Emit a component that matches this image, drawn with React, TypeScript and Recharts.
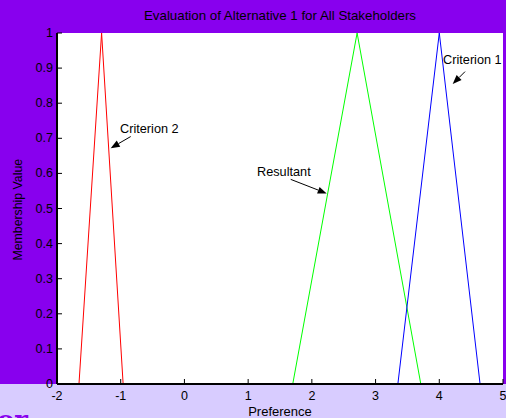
import * as React from "react"
import {
  LineChart,
  Line,
  XAxis,
  YAxis,
  CartesianGrid,
  ReferenceLine,
  ReferenceDot,
} from "recharts"

// membership triangles (x = preference, y = membership value)
const criterion1X = [3.35, 4.0, 4.64]
const criterion1Y = [0, 1, 0]
const criterion2X = [-1.655, -1.3, -0.962]
const criterion2Y = [0, 1, 0]
const resultantX = [1.7, 2.71, 3.71]
const resultantY = [0, 1, 0]

const xTicks = [-2, -1, 0, 1, 2, 3, 4, 5]
const yTicks = [0, 0.1, 0.2, 0.3, 0.4, 0.5, 0.6, 0.7, 0.8, 0.9, 1]

// annotation text anchor + arrow (from -> to), data units
const noteLabels = ["Criterion 1", "Criterion 2", "Resultant"]
const noteTextX = [4.06, -1.01, 1.14]
const noteTextY = [0.912, 0.716, 0.593]
const arrowFromX = [4.404, -0.843, 1.668]
const arrowFromY = [0.89, 0.705, 0.583]
const arrowToX = [4.211, -1.157, 2.233]
const arrowToY = [0.855, 0.672, 0.543]

const PURPLE = "#8800ee"
const LAVENDER = "#d8ccff"
const FONT = "Arial, 'Liberation Sans', Helvetica, sans-serif"

const toPoints = (xs: number[], ys: number[]) => xs.map((x, i) => ({ x, y: ys[i] }))

const BottomTick = (props: any) => {
  const { x, y, payload } = props
  return (
    <g>
      <line x1={x} y1={y} x2={x} y2={y - 5} stroke="#000" strokeWidth={1} />
      <text x={x} y={y + 16} textAnchor="middle" fontSize={12.5} fontFamily={FONT} fill="#000">
        {payload.value}
      </text>
    </g>
  )
}

const TopTick = (props: any) => {
  const { x, y } = props
  return <line x1={x} y1={y} x2={x} y2={y + 5} stroke="#000" strokeWidth={1} />
}

const LeftTick = (props: any) => {
  const { x, y, payload } = props
  const label = String(Math.round(payload.value * 10) / 10)
  return (
    <g>
      <line x1={x} y1={y} x2={x + 5} y2={y} stroke="#000" strokeWidth={1} />
      <text x={x - 4} y={y + 4} textAnchor="end" fontSize={12.5} fontFamily={FONT} fill="#000">
        {label}
      </text>
    </g>
  )
}

const RightTick = (props: any) => {
  const { x, y } = props
  return <line x1={x} y1={y} x2={x - 5} y2={y} stroke="#000" strokeWidth={1} />
}

const Arrow = (props: any) => {
  const { x1, y1, x2, y2 } = props
  if (x1 == null || x2 == null) return null
  const a = Math.atan2(y2 - y1, x2 - x1)
  const len = 9
  const w = 3.5
  const bx = x2 - len * Math.cos(a)
  const by = y2 - len * Math.sin(a)
  const px = -Math.sin(a) * w
  const py = Math.cos(a) * w
  return (
    <g>
      <line x1={x1} y1={y1} x2={bx} y2={by} stroke="#000" strokeWidth={1} />
      <polygon points={`${x2},${y2} ${bx + px},${by + py} ${bx - px},${by - py}`} fill="#000" />
    </g>
  )
}

export default function App() {
  return (
    <div
      style={{
        position: "absolute",
        left: 0,
        top: 0,
        width: 506,
        height: 418,
        overflow: "hidden",
        background: `linear-gradient(to bottom, ${PURPLE} 0px, ${PURPLE} 384px, ${LAVENDER} 384px, ${LAVENDER} 418px)`,
        fontFamily: FONT,
      }}
    >
      <div
        style={{
          position: "absolute",
          left: 57,
          width: 446,
          top: 8,
          textAlign: "center",
          fontSize: 13.3,
          color: "#000",
        }}
      >
        Evaluation of Alternative 1 for All Stakeholders
      </div>
      <div
        style={{
          position: "absolute",
          left: -3,
          top: 405,
          fontFamily: "'DejaVu Serif', 'Liberation Serif', serif",
          fontWeight: "bold",
          fontSize: 26,
          color: PURPLE,
          lineHeight: "30px",
        }}
      >
        or
      </div>
      <div style={{ position: "absolute", left: 0, top: 0 }}>
        <LineChart width={506} height={418} margin={{ top: 33, right: 3, left: 0, bottom: 0 }}>
          <CartesianGrid horizontal={false} vertical={false} fill="#fff" />
          <XAxis
            type="number"
            dataKey="x"
            domain={[-2, 5]}
            ticks={xTicks}
            allowDataOverflow
            height={34}
            tickSize={0}
            tickMargin={0}
            tickLine={false}
            axisLine={{ stroke: "#000", strokeWidth: 2 }}
            tick={<BottomTick />}
            interval={0}
            label={{ value: "Preference", position: "insideBottom", offset: 2, fontSize: 13, fill: "#000", fontFamily: FONT }}
          />
          <XAxis
            xAxisId="top"
            orientation="top"
            type="number"
            dataKey="x"
            domain={[-2, 5]}
            ticks={xTicks}
            allowDataOverflow
            height={0}
            tickSize={0}
            tickMargin={0}
            tickLine={false}
            axisLine={{ stroke: "#000", strokeWidth: 1 }}
            tick={<TopTick />}
            interval={0}
          />
          <YAxis
            type="number"
            domain={[0, 1]}
            ticks={yTicks}
            allowDataOverflow
            width={57}
            tickSize={0}
            tickMargin={0}
            tickLine={false}
            axisLine={{ stroke: "#000", strokeWidth: 2 }}
            tick={<LeftTick />}
            interval={0}
            label={{
              value: "Membership Value",
              angle: -90,
              position: "insideLeft",
              offset: 18,
              dy: 52,
              fontSize: 12.3,
              fill: "#000",
              fontFamily: FONT,
            }}
          />
          <YAxis
            yAxisId="right"
            orientation="right"
            type="number"
            domain={[0, 1]}
            ticks={yTicks}
            allowDataOverflow
            width={0}
            tickSize={0}
            tickMargin={0}
            tickLine={false}
            axisLine={{ stroke: "#000", strokeWidth: 1 }}
            tick={<RightTick />}
            interval={0}
          />
          <Line
            data={toPoints(criterion2X, criterion2Y)}
            dataKey="y"
            stroke="#ff0000"
            strokeWidth={1}
            dot={false}
            isAnimationActive={false}
          />
          <Line
            data={toPoints(resultantX, resultantY)}
            dataKey="y"
            stroke="#00ff00"
            strokeWidth={1}
            dot={false}
            isAnimationActive={false}
          />
          <Line
            data={toPoints(criterion1X, criterion1Y)}
            dataKey="y"
            stroke="#0000ff"
            strokeWidth={1}
            dot={false}
            isAnimationActive={false}
          />
          {noteLabels.map((label, i) => (
            <ReferenceLine
              key={`arrow-${i}`}
              segment={[
                { x: arrowFromX[i], y: arrowFromY[i] },
                { x: arrowToX[i], y: arrowToY[i] },
              ]}
              shape={(p: any) => <Arrow {...p} />}
            />
          ))}
          {noteLabels.map((label, i) => (
            <ReferenceDot
              key={`note-${i}`}
              x={noteTextX[i]}
              y={noteTextY[i]}
              r={1}
              shape={(p: any) => (
                <text x={p.cx} y={p.cy} fontSize={12.7} fontFamily={FONT} fill="#000">
                  {label}
                </text>
              )}
            />
          ))}
        </LineChart>
      </div>
    </div>
  )
}
